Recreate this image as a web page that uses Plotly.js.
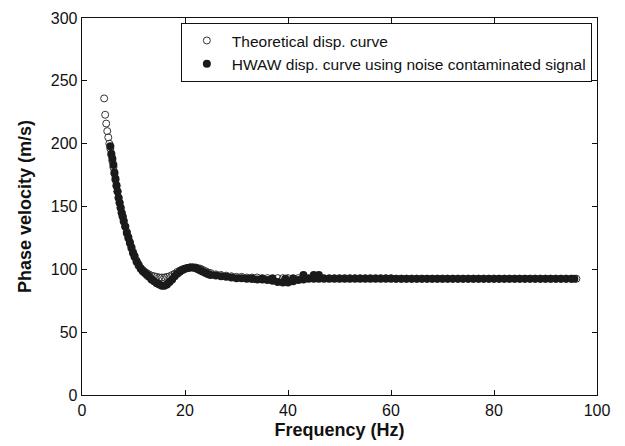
<!DOCTYPE html>
<html>
<head>
<meta charset="utf-8">
<script src="https://cdn.plot.ly/plotly-3.0.1.min.js"></script>
<style>html,body{margin:0;padding:0;background:#fff;}#chart{width:625px;height:446px;}</style>
</head>
<body>
<div id="chart"></div>
<script>
// Theoretical dispersion curve (Hz, m/s)
var freqTheory = [4.3,4.5,4.7,4.9,5.1,5.3,5.5,5.7,5.9,6.1,6.3,6.5,6.7,6.9,7.1,7.3,7.5,7.7,7.9,8.1,8.4,8.7,9.0,9.3,9.6,9.9,10.2,10.6,11.0,11.4,11.8,12.2,12.6,13.0,13.5,14.0,14.5,15.0,15.5,16.0,16.5,17.0,17.5,18.0,18.5,19.0,19.5,20.0,20.5,21.0,21.5,22.0,22.5,23.0,23.5,24.0,24.5,25,26,27,28,29,30,31,32,33,34,35,36,37,38,39,40,41,42,43,44,45,46,47,48,49,50,51,52,53,54,55,56,57,58,59,60,61,62,63,64,65,66,67,68,69,70,71,72,73,74,75,76,77,78,79,80,81,82,83,84,85,86,87,88,89,90,91,92,93,94,95,96];
var velTheory = [236,223,216,210,205,200,196,191,186,181,176,171,166,162,157,153,149,145,142,139,134,130,126,122,118,114,111,107,104,101,99.5,98,97,96,95,94.5,94,93.5,93.5,93.5,94,94.5,95.5,96.5,98,99,100,100.5,101,101.5,101.5,101.5,101,100.5,99.5,98.5,97.5,97,96,95.5,95,94.5,94,94,93.5,93.5,93.5,93,93,93,93,93,93,93,93,93,93,93,93,93,93,93,93,93,93,93,93,93,93,93,93,93,93,92.5,92.5,92.5,92.5,92.5,92.5,92.5,92.5,92.5,92.5,92.5,92.5,92.5,92.5,92.5,92.5,92.5,92.5,92.5,92.5,92.5,92.5,92.5,92.5,92.5,92.5,92.5,92.5,92.5,92.5,92.5,92.5,92.5,92.5,92.5,92.5,92.5];

// HWAW dispersion curve from noise contaminated signal (Hz, m/s)
var freqHwaw = [5.5,5.7,5.9,6.1,6.3,6.5,6.7,6.9,7.1,7.3,7.5,7.7,7.9,8.1,8.4,8.7,9.0,9.3,9.6,9.9,10.2,10.6,11.0,11.4,11.8,12.2,12.6,13.0,13.5,14.0,14.5,15.0,15.5,16.0,16.5,17.0,17.5,18.0,18.5,19.0,19.5,20.0,20.5,21.0,21.5,22.0,22.5,23.0,23.5,24.0,24.5,25,26,27,28,29,30,31,32,33,34,35,36,37,38,39,40,41,42,43,44,45,46,47,48,49,50,51,52,53,54,55,56,57,58,59,60,61,62,63,64,65,66,67,68,69,70,71,72,73,74,75,76,77,78,79,80,81,82,83,84,85,86,87,88,89,90,91,92,93,94,95,95.6,33,35,37,39.5,41,43,45,46];
var velHwaw = [198,192,188,183,177,172,167,162,157,153,149,145,142,138,134,129,125,121,117,113,110,106,103,100.5,98.5,97,95.5,94,92,90.5,89,88,87,87,88,90,92,94.5,96.5,98,99.5,100.5,101,101.5,101.5,101,100,99,98,97,96,95.5,95,94.5,94,93.5,93,93,92.5,92.5,92,92,91.5,91,90,89.5,89.5,90.5,91.5,92,92.5,92.5,92.5,92.5,92.5,92.5,92.5,92.5,92.5,92.5,92.5,92.5,92.5,92.5,92.5,92.5,92.5,92.5,92.5,92.5,92.5,92.5,92.5,92.5,92.5,92.5,92.5,92.5,92.5,92.5,92.5,92.5,92.5,92.5,92.5,92.5,92.5,92.5,92.5,92.5,92.5,92.5,92.5,92.5,92.5,92.5,92.5,92.5,92.5,92.5,92.5,92.5,92.5,92.5,92.5,92.5,92.5,92.5,95.5,95.5,95.5,95,95,95,95,95];

var traceTheory = {
  x: freqTheory, y: velTheory, type: 'scatter', mode: 'markers',
  name: 'Theoretical disp. curve',
  marker: {symbol: 'circle-open', size: 7, color: '#333', line: {width: 1, color: '#333'}}
};
var traceHwaw = {
  x: freqHwaw, y: velHwaw, type: 'scatter', mode: 'markers',
  name: 'HWAW disp. curve using noise contaminated signal',
  marker: {symbol: 'circle', size: 8, color: '#1a1a1a', line: {width: 0}}
};

var tickFont = {family: 'Liberation Sans, Arial, sans-serif', size: 16, color: '#111'};
var titleFont = {family: 'Liberation Sans, Arial, sans-serif', size: 18, color: '#111', weight: 'bold'};

var layout = {
  width: 625, height: 446,
  margin: {l: 82, r: 28, t: 18, b: 51},
  paper_bgcolor: '#fff', plot_bgcolor: '#fff',
  showlegend: true,
  legend: {
    x: 0.99, y: 0.987, xanchor: 'right', yanchor: 'top',
    bgcolor: '#fff', bordercolor: '#111', borderwidth: 1,
    font: {family: 'Liberation Sans, Arial, sans-serif', size: 15.5, color: '#111'},
    tracegroupgap: 0, itemwidth: 40
  },
  xaxis: {
    range: [0, 100], dtick: 20, tick0: 0,
    ticks: 'inside', ticklen: 5, tickwidth: 1, tickcolor: '#111',
    showline: true, linecolor: '#111', linewidth: 1.3, mirror: 'ticks',
    showgrid: false, zeroline: false,
    tickfont: tickFont,
    title: {text: 'Frequency (Hz)', font: titleFont, standoff: 6}
  },
  yaxis: {
    range: [0, 300], dtick: 50, tick0: 0,
    ticks: 'inside', ticklen: 5, tickwidth: 1, tickcolor: '#111',
    showline: true, linecolor: '#111', linewidth: 1.3, mirror: 'ticks',
    showgrid: false, zeroline: false,
    tickfont: tickFont,
    title: {text: 'Phase velocity (m/s)', font: titleFont, standoff: 14}
  }
};

Plotly.newPlot('chart', [traceTheory, traceHwaw], layout, {displayModeBar: false, staticPlot: true});
</script>
</body>
</html>
